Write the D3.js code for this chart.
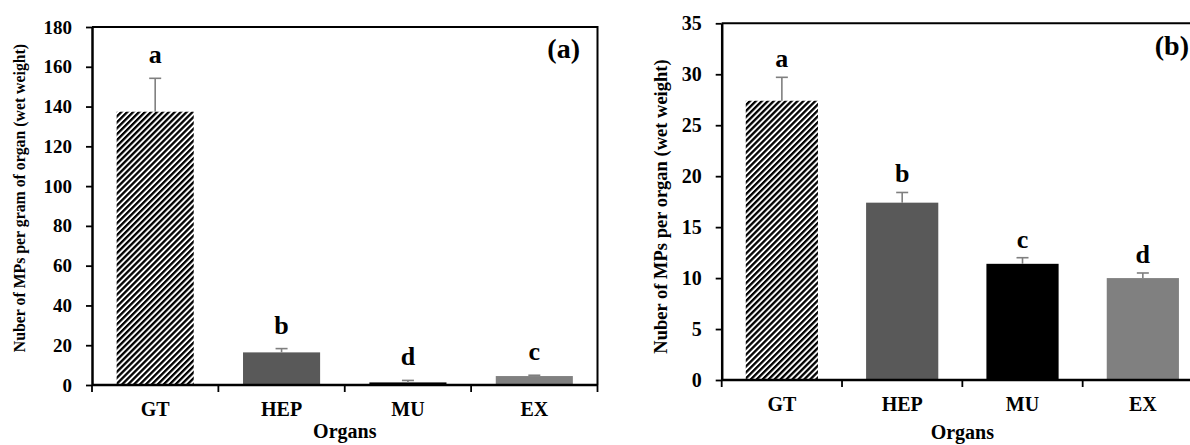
<!DOCTYPE html>
<html>
<head>
<meta charset="utf-8">
<script src="https://cdn.jsdelivr.net/npm/d3@7"></script>
<style>
  body { margin: 0; background: #fff; }
  svg { display: block; font-family: "Liberation Serif", "Times New Roman", serif; font-weight: bold; }
</style>
</head>
<body>
<div id="chart"></div>
<script>
// data
const organs = ["GT", "HEP", "MU", "EX"];

const meansA = [137.4, 16.4, 1.3, 4.5];
const errorsA = [16.8, 1.9, 1.0, 0.4];
const lettersA = ["a", "b", "d", "c"];
const ticksA = [0, 20, 40, 60, 80, 100, 120, 140, 160, 180];

const meansB = [27.4, 17.4, 11.4, 10.0];
const errorsB = [2.3, 1.0, 0.6, 0.5];
const lettersB = ["a", "b", "c", "d"];
const ticksB = [0, 5, 10, 15, 20, 25, 30, 35];

const width = 1190;
const height = 445;

const svg = d3.select("#chart")
    .append("svg")
    .attr("width", width)
    .attr("height", height);

// hatch for GT bars (wide upward diagonal)
const defs = svg.append("defs");
const hatch = defs.append("pattern")
    .attr("id", "hatch")
    .attr("patternUnits", "userSpaceOnUse")
    .attr("width", 4.2)
    .attr("height", 4.2)
    .attr("patternTransform", "rotate(45)");
hatch.append("rect").attr("width", 4.2).attr("height", 4.2).attr("fill", "#fff");
hatch.append("rect").attr("width", 2.3).attr("height", 4.2).attr("fill", "#000");

const fillScale = d3.scaleOrdinal()
    .domain(organs)
    .range(["url(#hatch)", "#595959", "#000000", "#808080"]);

function drawPanel(opt) {
    const g = svg.append("g");

    const x = d3.scaleBand()
        .domain(organs)
        .range([opt.left, opt.right])
        .paddingInner(opt.pad)
        .paddingOuter(opt.pad / 2);

    const y = d3.scaleLinear()
        .domain([0, opt.max])
        .range([opt.bottom, opt.top]);

    const data = organs.map((o, i) => ({
        organ: o, mean: opt.means[i], err: opt.errors[i], letter: opt.letters[i]
    }));

    // bars
    g.append("g")
        .selectAll("rect")
        .data(data)
        .join("rect")
        .attr("x", d => x(d.organ))
        .attr("y", d => y(d.mean))
        .attr("width", x.bandwidth())
        .attr("height", d => y(0) - y(d.mean))
        .attr("fill", d => fillScale(d.organ));

    // error bars (upper only)
    const eb = g.append("g")
        .attr("stroke", "#7f7f7f")
        .attr("stroke-width", 1.6);
    eb.selectAll("line.v")
        .data(data)
        .join("line")
        .attr("class", "v")
        .attr("x1", d => x(d.organ) + x.bandwidth() / 2)
        .attr("x2", d => x(d.organ) + x.bandwidth() / 2)
        .attr("y1", d => y(d.mean))
        .attr("y2", d => y(d.mean + d.err));
    eb.selectAll("line.c")
        .data(data)
        .join("line")
        .attr("class", "c")
        .attr("x1", d => x(d.organ) + x.bandwidth() / 2 - 6)
        .attr("x2", d => x(d.organ) + x.bandwidth() / 2 + 6)
        .attr("y1", d => y(d.mean + d.err))
        .attr("y2", d => y(d.mean + d.err));

    // significance letters
    g.append("g")
        .attr("text-anchor", "middle")
        .attr("font-size", "26px")
        .selectAll("text")
        .data(data)
        .join("text")
        .attr("x", d => x(d.organ) + x.bandwidth() / 2)
        .attr("y", d => y(d.mean + d.err) - opt.letterGap)
        .text(d => d.letter);

    // frame (top and right)
    g.append("path")
        .attr("d", `M${opt.left},${opt.top}H${opt.right}V${opt.bottom}`)
        .attr("fill", "none")
        .attr("stroke", "#000")
        .attr("stroke-width", 2);

    // y axis
    const yAxis = g.append("g")
        .attr("transform", `translate(${opt.left},0)`)
        .call(d3.axisLeft(y).tickValues(opt.ticks).tickSize(6).tickSizeOuter(0).tickPadding(14));
    yAxis.attr("font-family", null).attr("font-size", opt.tickFont);
    yAxis.select(".domain").attr("stroke-width", 2.5);
    yAxis.selectAll(".tick line").attr("stroke-width", 1.8);
    yAxis.selectAll(".tick text").attr("fill", "#000");

    // x axis: labels at band centres, ticks at category boundaries
    const xAxis = g.append("g")
        .attr("transform", `translate(0,${opt.bottom})`)
        .call(d3.axisBottom(x).tickSize(0).tickPadding(opt.xLabelPad).tickSizeOuter(0));
    xAxis.attr("font-family", null).attr("font-size", opt.xFont);
    xAxis.select(".domain")
        .attr("d", `M${opt.left},0H${opt.right}`)
        .attr("stroke-width", 2.5);
    xAxis.selectAll(".tick text").attr("fill", "#000");
    const bounds = organs.map((o, i) => opt.left + i * x.step()).concat([opt.right]);
    xAxis.selectAll("line.bound")
        .data(bounds)
        .join("line")
        .attr("class", "bound")
        .attr("x1", d => d)
        .attr("x2", d => d)
        .attr("y1", 0)
        .attr("y2", 7)
        .attr("stroke", "#000")
        .attr("stroke-width", 1.8);

    // axis titles
    g.append("text")
        .attr("text-anchor", "middle")
        .attr("font-size", opt.titleFont)
        .attr("transform", `translate(${opt.yTitleX},${opt.yTitleY}) rotate(-90)`)
        .text(opt.yTitle);

    g.append("text")
        .attr("text-anchor", "middle")
        .attr("font-size", "20px")
        .attr("x", opt.left + 4 * x.step() / 2)
        .attr("y", opt.xTitleY)
        .text("Organs");

    // panel tag
    g.append("text")
        .attr("text-anchor", "end")
        .attr("font-size", "28px")
        .attr("x", opt.tagX)
        .attr("y", opt.tagY)
        .text(opt.tag);
}

drawPanel({
    left: 92, right: 597.5, top: 27, bottom: 385, max: 180, pad: 0.39,
    means: meansA, errors: errorsA, letters: lettersA, ticks: ticksA,
    tickFont: "19px", xFont: "20px", xLabelPad: 17, letterGap: 15,
    titleFont: "15.8px", yTitle: "Nuber of MPs per gram of organ (wet weight)",
    yTitleX: 25, yTitleY: 198, xTitleY: 438,
    tag: "(a)", tagX: 580, tagY: 58
});

drawPanel({
    left: 721.7, right: 1203, top: 23.3, bottom: 380, max: 35, pad: 0.4,
    means: meansB, errors: errorsB, letters: lettersB, ticks: ticksB,
    tickFont: "20px", xFont: "20px", xLabelPad: 17, letterGap: 10,
    titleFont: "18.5px", yTitle: "Nuber of MPs per organ (wet weight)",
    yTitleX: 667, yTitleY: 206.5, xTitleY: 439,
    tag: "(b)", tagX: 1189, tagY: 55
});
</script>
</body>
</html>
